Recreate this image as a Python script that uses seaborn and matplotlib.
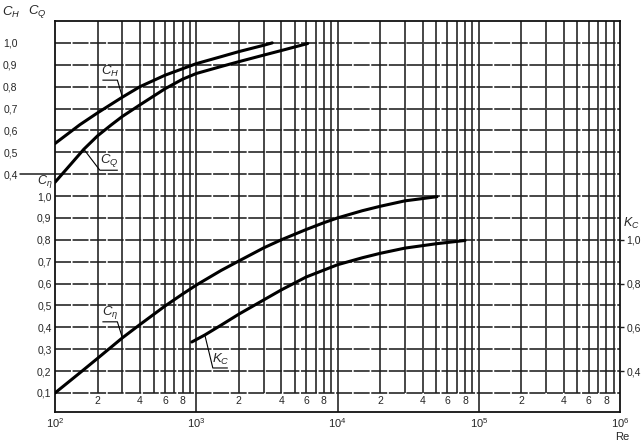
import matplotlib
matplotlib.use("Agg")
import matplotlib.pyplot as plt
from matplotlib.ticker import FuncFormatter, NullLocator
import numpy as np
import seaborn as sns

# values
# upper scale: C_H and C_Q
re_ch = [100, 150, 200, 300, 400, 600, 1000, 1500, 2000, 3000, 3450]
ch = [0.54, 0.626, 0.68, 0.752, 0.80, 0.852, 0.905, 0.937, 0.96, 0.989, 1.0]

re_cq = [100, 130, 160, 200, 250, 300, 400, 600, 800, 1000, 1500, 2000, 3000, 4000, 6150]
cq = [0.363, 0.447, 0.514, 0.575, 0.625, 0.664, 0.717, 0.79, 0.834, 0.86, 0.892,
      0.914, 0.944, 0.965, 0.997]

# lower scale: C_eta (left) and K_C (right)
re_ceta = [100, 150, 200, 300, 400, 600, 800, 1000, 1500, 2000, 3000, 4000, 6000, 8000,
           10000, 15000, 20000, 30000, 50600]
ceta = [0.1, 0.192, 0.258, 0.352, 0.413, 0.497, 0.552, 0.593, 0.66, 0.703, 0.763, 0.80,
        0.847, 0.878, 0.90, 0.933, 0.953, 0.978, 0.997]

re_kc = [930, 1150, 1500, 2000, 3000, 4000, 6000, 10000, 15000, 20000, 30000, 50000, 80000]
kc = [0.533, 0.565, 0.61, 0.66, 0.725, 0.771, 0.83, 0.886, 0.918, 0.938, 0.962, 0.982, 0.997]

decades = [1e2, 1e3, 1e4, 1e5, 1e6]
minor_labels = [2, 4, 6, 8]
ceta_ticks = [0.1, 0.2, 0.3, 0.4, 0.5, 0.6, 0.7, 0.8, 0.9, 1.0]
top_ticks = [0.4, 0.5, 0.6, 0.7, 0.8, 0.9, 1.0]
kc_ticks = [0.4, 0.6, 0.8, 1.0]

TOP_SHIFT = 0.7   # upper scale 0.4 sits on lower scale 1.1
KC_SHIFT = 0.2    # K_C = C_eta + 0.2 on the grid
Y0, Y1 = 0.013, 1.8

sns.set_theme(style="white")
plt.rcParams["font.family"] = ["Liberation Sans", "DejaVu Sans"]
plt.rcParams["mathtext.fontset"] = "custom"
plt.rcParams["mathtext.rm"] = "Liberation Sans"
plt.rcParams["mathtext.it"] = "Liberation Sans:italic"
plt.rcParams["mathtext.bf"] = "Liberation Sans:bold"

GRID = "#1e1e1e"
comma = FuncFormatter(lambda v, p: f"{v:.1f}".replace(".", ","))

fig = plt.figure(figsize=(6.42, 4.43), dpi=100)
ax = fig.add_axes([55 / 642, 31 / 443, 565 / 642, 391 / 443])
ax.set_xscale("log")
ax.set_xlim(1e2, 1e6)
ax.set_ylim(Y0, Y1)

ax_top = ax.twinx()
ax_top.set_ylim(Y0 - TOP_SHIFT, Y1 - TOP_SHIFT)
ax_k = ax.twinx()
ax_k.set_ylim(Y0 + KC_SHIFT, Y1 + KC_SHIFT)

# grid
dash = (0, (10, 1.0))
for v in np.arange(1, 18) / 10:
    ax.axhline(v, color=GRID, lw=1.15, ls=dash, zorder=1)
for d in decades[:-1]:
    ax.vlines([k * d for k in range(2, 10)], 0.1, Y1, color=GRID, lw=1.15, zorder=1)
    for k in minor_labels:
        ax.text(k * d, 0.065, str(k), ha="center", va="center", fontsize=7.5)
for d in decades[1:-1]:
    ax.axvline(d, color=GRID, lw=1.15, zorder=1)

for s in ax.spines.values():
    s.set_color("#111111")
    s.set_linewidth(1.3)
for a in (ax_top, ax_k):
    for s in a.spines.values():
        s.set_visible(False)

# axes ticks
ax.set_xticks(decades)
ax.xaxis.set_minor_locator(NullLocator())
ax.tick_params(axis="x", length=0, pad=3, labelsize=8)
ax.set_yticks(ceta_ticks)
ax.yaxis.set_major_formatter(comma)
ax.tick_params(axis="y", length=0, pad=2.5, labelsize=7.5)

ax_top.yaxis.tick_left()
ax_top.set_yticks(top_ticks)
ax_top.yaxis.set_major_formatter(comma)
ax_top.tick_params(axis="y", length=0, pad=27, labelsize=7.5)

ax_k.yaxis.tick_right()
ax_k.set_yticks(kc_ticks)
ax_k.yaxis.set_major_formatter(comma)
ax_k.tick_params(axis="y", length=3, width=1, color=GRID, pad=1.5, labelsize=7.5)

# separator between the two scales on the left
ax.plot([-35 / 565, 0], [1.1, 1.1], transform=ax.get_yaxis_transform(),
        color=GRID, lw=1.1, clip_on=False)

# curves
sns.lineplot(x=re_ch, y=ch, ax=ax_top, color="black", linewidth=2.2)
sns.lineplot(x=re_cq, y=cq, ax=ax_top, color="black", linewidth=2.2)
sns.lineplot(x=re_ceta, y=ceta, ax=ax, color="black", linewidth=2.2, zorder=3)
sns.lineplot(x=re_kc, y=kc, ax=ax_k, color="black", linewidth=2.2)
for a in (ax, ax_top, ax_k):
    a.set_xlabel("")
    a.set_ylabel("")


def curve_label(a, text, x, y, near, far):
    px, py = a.transData.transform((x, y))
    pts = np.array([[px, py], [px + near[0], py + near[1]], [px + far[0], py + far[1]]])
    d = a.transData.inverted().transform(pts)
    a.plot(d[:, 0], d[:, 1], color="black", lw=0.8, solid_capstyle="butt", clip_on=False)
    mid = (pts[1] + pts[2]) / 2
    a.annotate(text, xy=(mid[0], mid[1] + 1), xycoords="figure pixels",
               ha="center", va="bottom", fontsize=9.5)


curve_label(ax_top, "$C_H$", re_ch[3], ch[3], (-5, 17), (-20, 17))
curve_label(ax_top, "$C_Q$", re_cq[2], cq[2], (16, -21), (34, -21))
curve_label(ax, r"$C_\eta$", re_ceta[3], ceta[3], (-5, 16), (-20, 16))
curve_label(ax_k, "$K_C$", re_kc[1], kc[1], (8, -33), (23, -33))

# axis titles
fig.text(11 / 642, 1 - 12 / 443, "$C_H$", ha="center", va="center", fontsize=9.5)
fig.text(37 / 642, 1 - 12 / 443, "$C_Q$", ha="center", va="center", fontsize=9.5)
fig.text(52 / 642, 1 - 182 / 443, r"$C_\eta$", ha="right", va="center", fontsize=9)
fig.text(623 / 642, 1 - 223 / 443, "$K_C$", ha="left", va="center", fontsize=9)
fig.text(622 / 642, 1 - 437 / 443, "Re", ha="center", va="center", fontsize=8)

fig.savefig("out.png", dpi=100)
